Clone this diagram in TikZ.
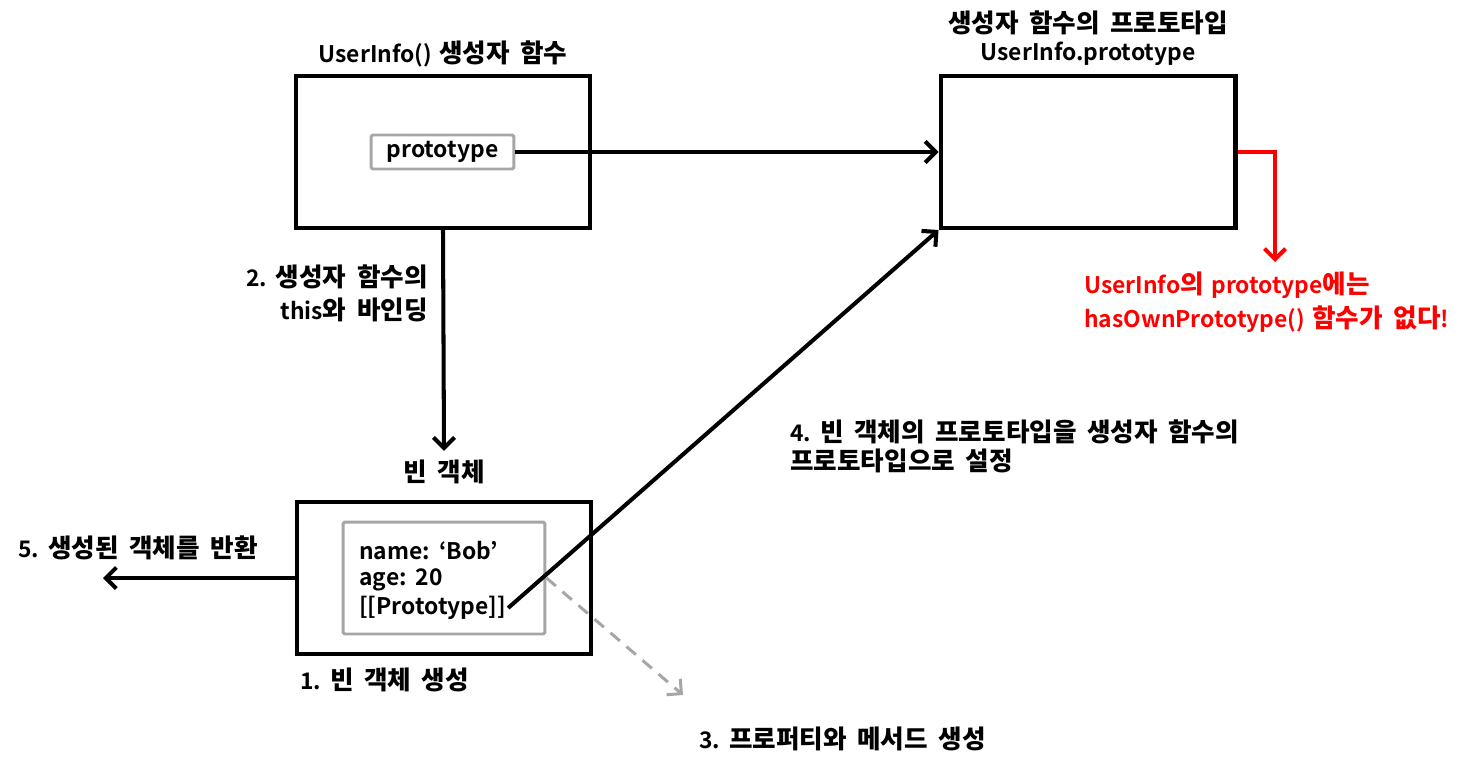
\documentclass[tikz,border=0pt]{standalone}
\usepackage{fontspec}
\setmainfont{Noto Sans CJK KR}[BoldFont={Noto Sans CJK KR Bold}, WordSpace=1.4]
\newfontfamily\krfont{Noto Sans CJK KR Bold}[Scale=1.12, WordSpace=1.8]
\newcommand{\kr}[1]{{\krfont #1}}
\usetikzlibrary{arrows.meta}
\tikzset{
	objbox/.style={draw=black, line width=2.3pt, minimum width=5.9cm, minimum height=3.04cm},
	slotbox/.style={draw=black!35, line width=1.7pt, rounded corners=1pt},
	txt/.style={inner sep=0pt, font=\bfseries\fontsize{13}{16}\selectfont},
	link/.style={line width=2.3pt, -{Straight Barb[length=6pt,width=12pt]}},
}
\begin{document}
\begin{tikzpicture}[x=0.02cm,y=-0.02cm]
			\useasboundingbox (0,0) rectangle (1484,767);
			
			\node[objbox] (ctor) at (443,152) {};
			\node[objbox] (proto) at (1088,152) {};
			\node[objbox] (obj) at (444,578) {};
			
			\node[slotbox, minimum width=2.86cm, minimum height=0.68cm, txt] (slot) at (442.5,152) {prototype};
			\node[slotbox, minimum width=4.04cm, minimum height=2.24cm] (props) at (444,578) {};
			
			\node[txt] (ctortitle) at (443,54) {UserInfo() \kr{생성자 함수}};
			\node[txt] (prototitle) at (1088,23) {\kr{생성자 함수의 프로토타입}};
			\node[txt] (prototitle2) at (1088,54) {UserInfo.prototype};
			\node[txt] (objtitle) at (444,472) {\kr{빈 객체}};
			
			\node[txt, anchor=west] (pname) at (359,551) {name: ‘Bob’};
			\node[txt, anchor=west] (page) at (359,580) {age: 20};
			\node[txt, anchor=west] (plink) at (359,608) {[[Prototype]]};
			
			\node[txt, anchor=east] (step2a) at (428,277) {2. \kr{생성자 함수의}};
			\node[txt, anchor=east] (step2b) at (428,310) {this\kr{와 바인딩}};
			\node[txt, anchor=west] (step1) at (300,680) {1. \kr{빈 객체 생성}};
			\node[txt, anchor=west] (step3) at (699,739) {3. \kr{프로퍼티와 메서드 생성}};
			\node[txt, anchor=west] (step4a) at (790,432) {4. \kr{빈 객체의 프로토타입을 생성자 함수의}};
			\node[txt, anchor=west] (step4b) at (790,461) {\kr{프로토타입으로 설정}};
			\node[txt, anchor=west] (step5) at (18,548) {5. \kr{생성된 객체를 반환}};
			\node[txt, anchor=west, text=red] (note1) at (1084,285) {UserInfo\kr{의} prototype\kr{에는}};
			\node[txt, anchor=west, text=red] (note2) at (1084,319) {hasOwnPrototype() \kr{함수가 없다}!};
			
			\coordinate (ret) at (103,578);
			\coordinate (newprops) at (683,695);
			\coordinate (bend) at (1275,152);
			\coordinate (missing) at (1275,262);
			
			\draw[link] (slot.east) -- (proto.west);
			\draw[link] (ctor.south) -- ([yshift=5pt]objtitle.north);
			\draw[link] ([xshift=1pt]plink.east) -- (proto.south west);
			\draw[link] (obj.west) -- (ret);
			\draw[link, line width=1.7pt, black!35, dash pattern=on 7pt off 5pt] (props.east) -- (newprops);
			\draw[link, red] (proto.east) -- (bend) -- (missing);
		\end{tikzpicture}
\end{document}
